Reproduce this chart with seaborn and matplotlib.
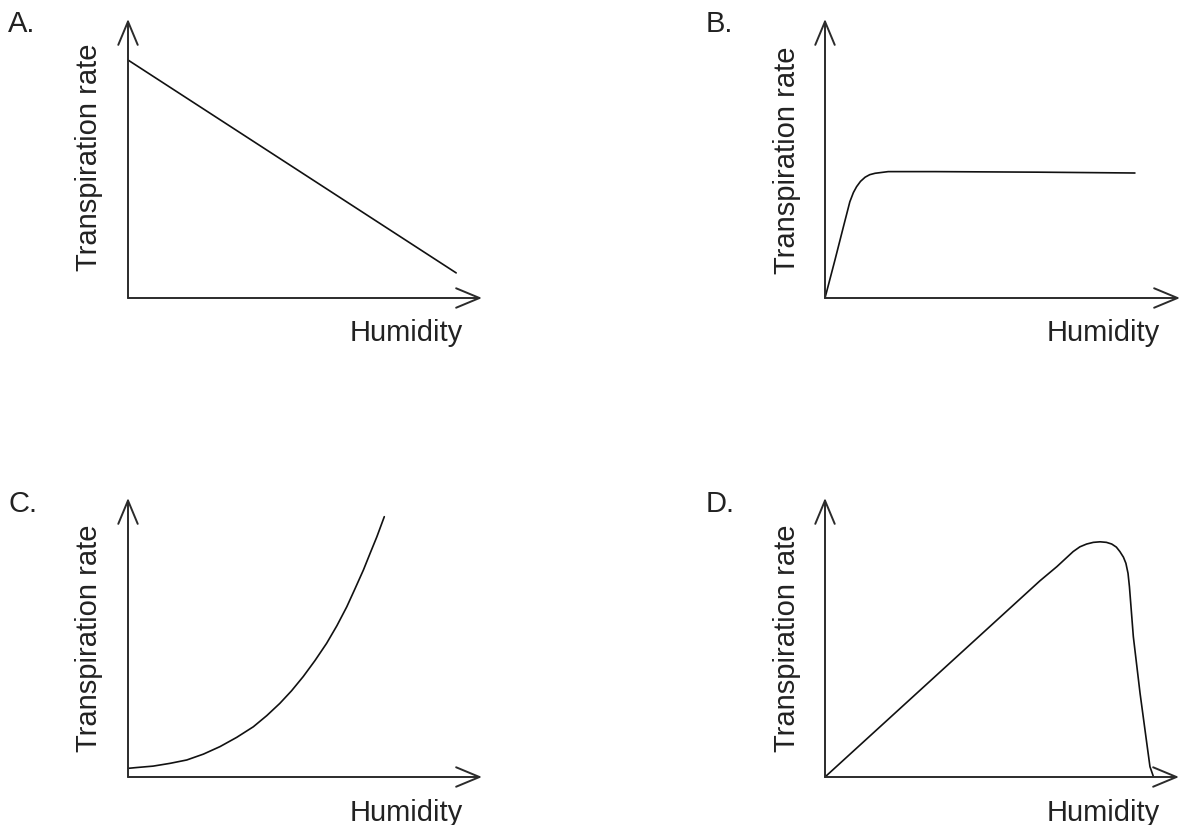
import matplotlib
matplotlib.use("Agg")
import matplotlib.pyplot as plt
import seaborn as sns
import pandas as pd

# --------------------------
# Data: sketched curves, axes run 0..10 in both directions
# --------------------------
a_x = [0.0, 9.27]
a_y = [8.53, 0.90]

b_x = [0.0, 0.28, 0.52, 0.70, 0.80, 0.89, 1.00, 1.13, 1.26, 1.41, 1.78, 3.10, 6.00, 8.73]
b_y = [0.0, 1.36, 2.56, 3.45, 3.78, 3.99, 4.18, 4.33, 4.42, 4.47, 4.53, 4.53, 4.51, 4.48]

c_x = [0.0, 0.25, 0.71, 1.19, 1.66, 2.13, 2.60, 3.07, 3.54, 3.92, 4.29, 4.62,
       4.95, 5.28, 5.61, 5.90, 6.18, 6.41, 6.65, 6.84, 7.03, 7.24]
c_y = [0.31, 0.34, 0.39, 0.49, 0.61, 0.82, 1.09, 1.42, 1.80, 2.20, 2.64, 3.09,
       3.60, 4.17, 4.79, 5.42, 6.10, 6.74, 7.42, 8.02, 8.61, 9.33]

d_x = [0.0, 6.07, 6.55, 7.01, 7.20, 7.39, 7.58, 7.77, 7.95, 8.10, 8.23, 8.33, 8.43,
       8.50, 8.56, 8.60, 8.71, 8.90, 9.09, 9.18, 9.27]
d_y = [0.0, 7.03, 7.54, 8.08, 8.25, 8.35, 8.41, 8.43, 8.41, 8.35, 8.24, 8.08, 7.88,
       7.66, 7.30, 6.82, 5.03, 3.00, 1.21, 0.37, 0.04]

panels = ["A.", "B.", "C.", "D."]
x_label = "Humidity"
y_label = "Transpiration rate"

# --------------------------
# Figure layout (pixel based)
# --------------------------
W, H = 1181, 825
sns.set_theme(style="white")
plt.rcParams["font.family"] = ["Liberation Sans", "DejaVu Sans"]

fig = plt.figure(figsize=(W / 100, H / 100), dpi=100)
fig.patch.set_facecolor("white")

def fx(x):
    return x / W

def fy(y):
    return 1 - y / H

# left, right, top, bottom of each axis frame in pixels
frames = [(128, 482, 19, 298), (825, 1180, 19, 298),
          (128, 482, 498, 777), (825, 1179, 498, 777)]
curves = [(a_x, a_y), (b_x, b_y), (c_x, c_y), (d_x, d_y)]
letter_pos = [(8, 32), (706, 32), (8, 512), (706, 512)]
xlab_pos = [(406, 341), (1103, 341), (406, 821), (1103, 821)]
ylab_pos = [(89, 157), (787, 160), (89, 638), (787, 638)]

axis_color = "#2b2b2b"
fs = 21

for i, (l, r, t, b) in enumerate(frames):
    ax = fig.add_axes([fx(l), fy(b), (r - l) / W, (b - t) / H])
    ax.set_xlim(0, 10)
    ax.set_ylim(0, 10)
    ax.axis("off")

    df = pd.DataFrame({"x": curves[i][0], "y": curves[i][1]})
    sns.lineplot(data=df, x="x", y="y", sort=False, color="#111111",
                 linewidth=1.2, ax=ax)
    for ln in ax.lines:
        ln.set_clip_on(False)
        ln.set_solid_joinstyle("round")

    arrow = dict(arrowstyle="->,head_length=0.6,head_width=0.25",
                 color=axis_color, lw=1.4, mutation_scale=28,
                 shrinkA=0, shrinkB=0)
    ax.annotate("", xy=(10, 0), xytext=(0, 0), arrowprops=arrow,
                annotation_clip=False)
    ax.annotate("", xy=(0, 10), xytext=(0, 0), arrowprops=arrow,
                annotation_clip=False)

    lx, ly = letter_pos[i]
    fig.text(fx(lx), fy(ly), panels[i], fontsize=fs, color="#222222",
             ha="left", va="baseline")
    hx, hy = xlab_pos[i]
    fig.text(fx(hx), fy(hy), x_label, fontsize=fs, color="#222222",
             ha="center", va="baseline")
    vx, vy = ylab_pos[i]
    fig.text(fx(vx), fy(vy), y_label, fontsize=fs, color="#222222",
             ha="center", va="center", rotation=90)

fig.savefig("out.png", dpi=100, facecolor="white")
